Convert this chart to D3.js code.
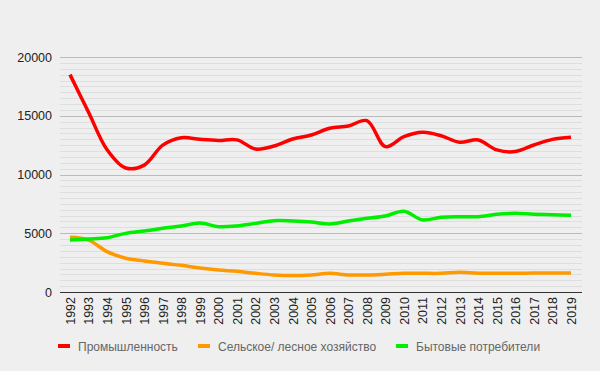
<!DOCTYPE html>
<html>
<head>
<meta charset="utf-8">
<script src="https://cdn.jsdelivr.net/npm/d3@7"></script>
<style>
  body { margin: 0; background: #efefef; }
  svg { display: block; font-family: "Liberation Sans", Arial, sans-serif; }
</style>
</head>
<body>
<svg id="chart" width="600" height="371"></svg>
<script>
var years = [1992,1993,1994,1995,1996,1997,1998,1999,2000,2001,2002,2003,2004,2005,2006,2007,2008,2009,2010,2011,2012,2013,2014,2015,2016,2017,2018,2019];
var industry = [18500,15300,12100,10550,10800,12500,13130,12990,12900,12950,12170,12420,13020,13360,13930,14130,14580,12370,13220,13590,13300,12740,12940,12090,11950,12510,12990,13170];
var agriculture = [4650,4420,3430,2870,2640,2440,2270,2040,1870,1760,1590,1450,1400,1450,1590,1450,1450,1510,1590,1590,1590,1680,1600,1590,1590,1620,1620,1620];
var household = [4420,4510,4620,4990,5190,5420,5620,5870,5560,5620,5840,6070,6040,5960,5790,6040,6270,6470,6870,6130,6360,6410,6410,6610,6700,6610,6580,6530];
var seriesNames = ["Промышленность", "Сельское/ лесное хозяйство", "Бытовые потребители"];
var seriesColors = ["#ff0000", "#ff9900", "#00ee00"];
var yTicks = [0, 5000, 10000, 15000, 20000];

var svg = d3.select('#chart');
var plotLeft = 60, plotRight = 582, plotTop = 57, plotBottom = 292;

var x = d3.scalePoint()
    .domain(years)
    .range([70, 571]);

var y = d3.scaleLinear()
    .domain([0, 20000])
    .range([plotBottom, plotTop]);

// minor grid
svg.append('g')
    .selectAll('line')
    .data(d3.range(500, 20000, 500).filter(v => v % 5000 != 0))
    .enter().append('line')
    .attr('x1', plotLeft).attr('x2', plotRight)
    .attr('y1', d => Math.round(y(d)) + 0.5).attr('y2', d => Math.round(y(d)) + 0.5)
    .attr('stroke', '#dedede').attr('stroke-width', 1);

// major grid
svg.append('g')
    .selectAll('line')
    .data(yTicks.slice(1))
    .enter().append('line')
    .attr('x1', plotLeft).attr('x2', plotRight)
    .attr('y1', d => Math.round(y(d)) + 0.5).attr('y2', d => Math.round(y(d)) + 0.5)
    .attr('stroke', '#bbbbbb').attr('stroke-width', 1);

// y axis labels
const yAxis = d3.axisLeft(y).tickValues(yTicks).tickSize(0).tickPadding(8).tickFormat(d3.format('d'));
var gy = svg.append('g')
    .attr('transform', 'translate(' + plotLeft + ',0)')
    .call(yAxis);
gy.select('.domain').remove();
gy.selectAll('text').attr('fill', '#222').style('font-size', '12.5px');

// x axis
const xAxis = d3.axisBottom(x).tickSize(0).tickFormat(d3.format('d'));
var gx = svg.append('g')
    .attr('transform', 'translate(0,' + plotBottom + ')')
    .call(xAxis);
gx.select('.domain').attr('d', 'M' + plotLeft + ',0.5H' + plotRight).attr('stroke', '#333');
gx.selectAll('text')
    .attr('fill', '#222')
    .style('font-size', '12.5px')
    .attr('transform', 'rotate(-90)')
    .attr('text-anchor', 'end')
    .attr('x', -5).attr('y', 0)
    .attr('dy', '0.35em');

// lines
var allSeries = [industry, agriculture, household];
var line = d3.line()
    .x((d, i) => x(years[i]))
    .y(d => y(d))
    .curve(d3.curveCatmullRom.alpha(0.5));

// red drawn last so it sits on top
[1, 2, 0].forEach(i => {
    svg.append('path')
        .datum(allSeries[i])
        .attr('d', line)
        .attr('fill', 'none')
        .attr('stroke', seriesColors[i])
        .attr('stroke-width', 3.5)
        .attr('stroke-linejoin', 'round');
});

// legend
var legendX = [58, 198, 396];
seriesNames.forEach((name, i) => {
    svg.append('rect')
        .attr('x', legendX[i]).attr('y', 344)
        .attr('width', 12).attr('height', 4)
        .attr('fill', seriesColors[i]);
    svg.append('text')
        .text(name)
        .attr('x', legendX[i] + 20)
        .attr('y', 350.5)
        .attr('fill', '#666')
        .style('font-size', '12px');
});
</script>
</body>
</html>
